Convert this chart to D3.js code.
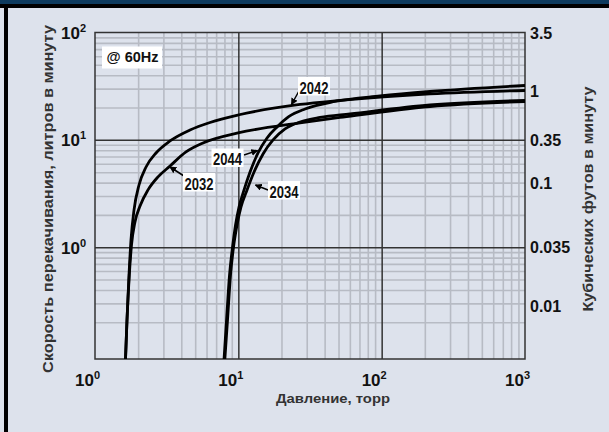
<!DOCTYPE html>
<html><head><meta charset="utf-8">
<script src="https://cdn.jsdelivr.net/npm/d3@7"></script>
<style>
body{margin:0;background:#dde2ec}
svg{display:block}
text{font-family:"Liberation Sans",Arial,Helvetica,sans-serif;font-weight:bold}
</style>
</head><body>
<svg id="c" width="609" height="432"></svg>
<script>
// ---- Data (pressure in torr, speed in litres per minute) ----
const pressure2042=[1.632,1.672,1.727,1.783,1.872,2.028,2.27,2.666,3.337,4.602,6.346,9.95,26.95,51.25,217.6,1000];
const speed2042   =[0.09,0.21,0.552,1.169,2.225,3.80,5.59,7.55,9.77,12.37,14.52,17.05,21.36,23.28,26.76,28.84];
const pressure2032=[1.632,1.672,1.735,1.798,1.901,2.061,2.344,2.752,3.337,4.315,5.672,9.95,26.95,51.25,217.6,1000];
const speed2032   =[0.09,0.21,0.552,1.05,1.72,2.42,3.42,4.52,5.71,7.72,9.36,11.6,14.37,16.17,20.46,22.78];
const pressure2044=[7.946,8.273,8.682,9.11,9.561,10.11,10.96,12.07,13.72,15.86,18.63,22.59,29.21,47.3,97.46,217.6,1000];
const speed2044   =[0.09,0.21,0.552,1.006,1.613,2.372,3.416,5.024,7.551,10.42,13.19,16.52,19.4,22.78,25.63,28.22,32.1];
const pressure2034=[8.05,8.406,8.822,9.258,9.793,10.44,11.5,12.87,14.87,17.47,21.18,26.95,37.17,60.2,217.6,1000];
const speed2034   =[0.09,0.21,0.552,1.006,1.613,2.372,3.416,5.024,7.39,9.98,12.64,14.68,16.17,17.43,21.13,23.28];
const seriesNames=["2042","2032","2044","2034"];

const xTickValues=[1,10,100,1000];
const xTickExp=["0","1","2","3"];
const yTickValues=[1,10,100];
const yTickExp=["0","1","2"];
const rightTickLabels=["3.5","1","0.35","0.1","0.035","0.01"];
const rightTickLpm=[100,28.3,10,4.0,1,0.283];
const xMinor=[2,3,4,5,6,7,8,9,20,30,40,50,60,70,80,90,200,300,400,500,600,700,800,900];
const yMinor=[0.2,0.3,0.4,0.5,0.6,0.7,0.8,0.9,2,3,4,5,6,7,8,9,20,30,40,50,60,70,80,90];

// ---- Layout ----
const svg=d3.select("#c");
const X0=95,X1=525,Y0=32.5,Y1=359;
const x=d3.scaleLog().domain([1,1000]).range([X0,X1]);
const y=d3.scaleLog().domain([0.091,100]).range([Y1,Y0]);

// background and frame
svg.append("rect").attr("width",609).attr("height",432).attr("fill","#dde2ec");
svg.append("rect").attr("x",0).attr("y",0).attr("width",609).attr("height",4).attr("fill","#0e3b5e");
svg.append("rect").attr("x",0).attr("y",4).attr("width",609).attr("height",4).attr("fill","#000");
svg.append("rect").attr("x",4).attr("y",4).attr("width",4).attr("height",428).attr("fill","#000");

// minor grid
svg.append("g").attr("transform",`translate(0,${Y1})`)
  .call(d3.axisBottom(x).tickValues(xMinor).tickSize(-(Y1-Y0)).tickFormat(""))
  .call(g=>g.select(".domain").remove())
  .selectAll("line").attr("stroke","#b7bbc4").attr("stroke-width",1.6);
svg.append("g").attr("transform",`translate(${X0},0)`)
  .call(d3.axisLeft(y).tickValues(yMinor).tickSize(-(X1-X0)).tickFormat(""))
  .call(g=>g.select(".domain").remove())
  .selectAll("line").attr("stroke","#b7bbc4").attr("stroke-width",1.6);

// major grid
svg.append("g").attr("transform",`translate(0,${Y1})`)
  .call(d3.axisBottom(x).tickValues([10,100]).tickSize(-(Y1-Y0)).tickFormat(""))
  .call(g=>g.select(".domain").remove())
  .selectAll("line").attr("stroke","#333").attr("stroke-width",1.5);
svg.append("g").attr("transform",`translate(${X0},0)`)
  .call(d3.axisLeft(y).tickValues([1,10]).tickSize(-(X1-X0)).tickFormat(""))
  .call(g=>g.select(".domain").remove())
  .selectAll("line").attr("stroke","#333").attr("stroke-width",1.5);

// plot border
svg.append("rect").attr("x",X0).attr("y",Y0).attr("width",X1-X0).attr("height",Y1-Y0)
  .attr("fill","none").attr("stroke","#333").attr("stroke-width",1.5);

// curves
svg.append("clipPath").attr("id","clip").append("rect")
  .attr("x",X0).attr("y",Y0).attr("width",X1-X0).attr("height",Y1-Y0);
const line=d3.line().x(d=>x(d[0])).y(d=>y(d[1])).curve(d3.curveMonotoneX);
const series=[[pressure2042,speed2042],[pressure2032,speed2032],[pressure2044,speed2044],[pressure2034,speed2034]];
const cg=svg.append("g").attr("clip-path","url(#clip)");
series.forEach((s,i)=>{
  const pts=s[0].map((p,j)=>[p,s[1][j]]);
  cg.append("path").datum(pts).attr("d",line).attr("fill","none")
    .attr("stroke","#000").attr("stroke-width",2.8).attr("stroke-linejoin","round");
});

// tick labels
function powLabel(g,base,exp){
  g.append("tspan").text(base);
  g.append("tspan").attr("font-size",11).attr("dy",-7).text(exp);
}
xTickValues.forEach((v,i)=>{
  const t=svg.append("text").attr("x",x(v)-20).attr("y",386).attr("font-size",17).attr("fill","#111");
  powLabel(t,"10",xTickExp[i]);
});
yTickValues.forEach((v,i)=>{
  const t=svg.append("text").attr("x",86).attr("y",y(v)+6.5).attr("font-size",17)
    .attr("text-anchor","end").attr("fill","#111");
  powLabel(t,"10",yTickExp[i]);
});
rightTickLabels.forEach((l,i)=>{
  svg.append("text").attr("x",530).attr("y",y(rightTickLpm[i])+6).attr("font-size",16)
    .attr("fill","#111").text(l);
});

// axis titles
svg.append("text").attr("x",333).attr("y",403).attr("text-anchor","middle")
  .attr("font-size",13).attr("fill","#333").attr("textLength",114).attr("lengthAdjust","spacingAndGlyphs")
  .text("Давление, торр");
svg.append("text").attr("transform","translate(53,199) rotate(-90)").attr("text-anchor","middle")
  .attr("font-size",14).attr("fill","#333").attr("textLength",348).attr("lengthAdjust","spacingAndGlyphs")
  .text("Скорость перекачивания, литров в минуту");
svg.append("text").attr("transform","translate(593,199) rotate(-90)").attr("text-anchor","middle")
  .attr("font-size",14).attr("fill","#333").attr("textLength",225).attr("lengthAdjust","spacingAndGlyphs")
  .text("Кубических футов в минуту");

// @ 60Hz box
svg.append("rect").attr("x",102).attr("y",46.5).attr("width",60).attr("height",22).attr("fill","#fff");
svg.append("text").attr("x",106.5).attr("y",62).attr("font-size",14).attr("fill","#111")
  .attr("textLength",52).attr("lengthAdjust","spacingAndGlyphs").text("@ 60Hz");

// arrow marker
svg.append("defs").append("marker").attr("id","ah").attr("viewBox","0 0 8 8")
  .attr("refX",7).attr("refY",4).attr("markerWidth",7).attr("markerHeight",7)
  .attr("markerUnits","userSpaceOnUse").attr("orient","auto")
  .append("path").attr("d","M0,0 L8,4 L0,8 z").attr("fill","#000");

// curve labels (annotation boxes)
const labelBoxes=[
  {name:"2042",bx:298,by:77,from:[299,91],to:[291.5,104.5]},
  {name:"2044",bx:211.5,by:148.5,from:[244,155],to:[257.5,150.5]},
  {name:"2032",bx:183,by:173,from:[184,176],to:[170,167]},
  {name:"2034",bx:268,by:181,from:[268,190],to:[255.5,185]}
];
labelBoxes.forEach(b=>{
  svg.append("line").attr("x1",b.from[0]).attr("y1",b.from[1]).attr("x2",b.to[0]).attr("y2",b.to[1])
    .attr("stroke","#000").attr("stroke-width",1.5).attr("marker-end","url(#ah)");
  svg.append("rect").attr("x",b.bx).attr("y",b.by).attr("width",32).attr("height",18.5).attr("fill","#fff");
  svg.append("text").attr("x",b.bx+1.5).attr("y",b.by+16.5).attr("font-size",17).attr("fill","#111")
    .attr("textLength",29).attr("lengthAdjust","spacingAndGlyphs").text(b.name);
});
</script>
</body></html>
